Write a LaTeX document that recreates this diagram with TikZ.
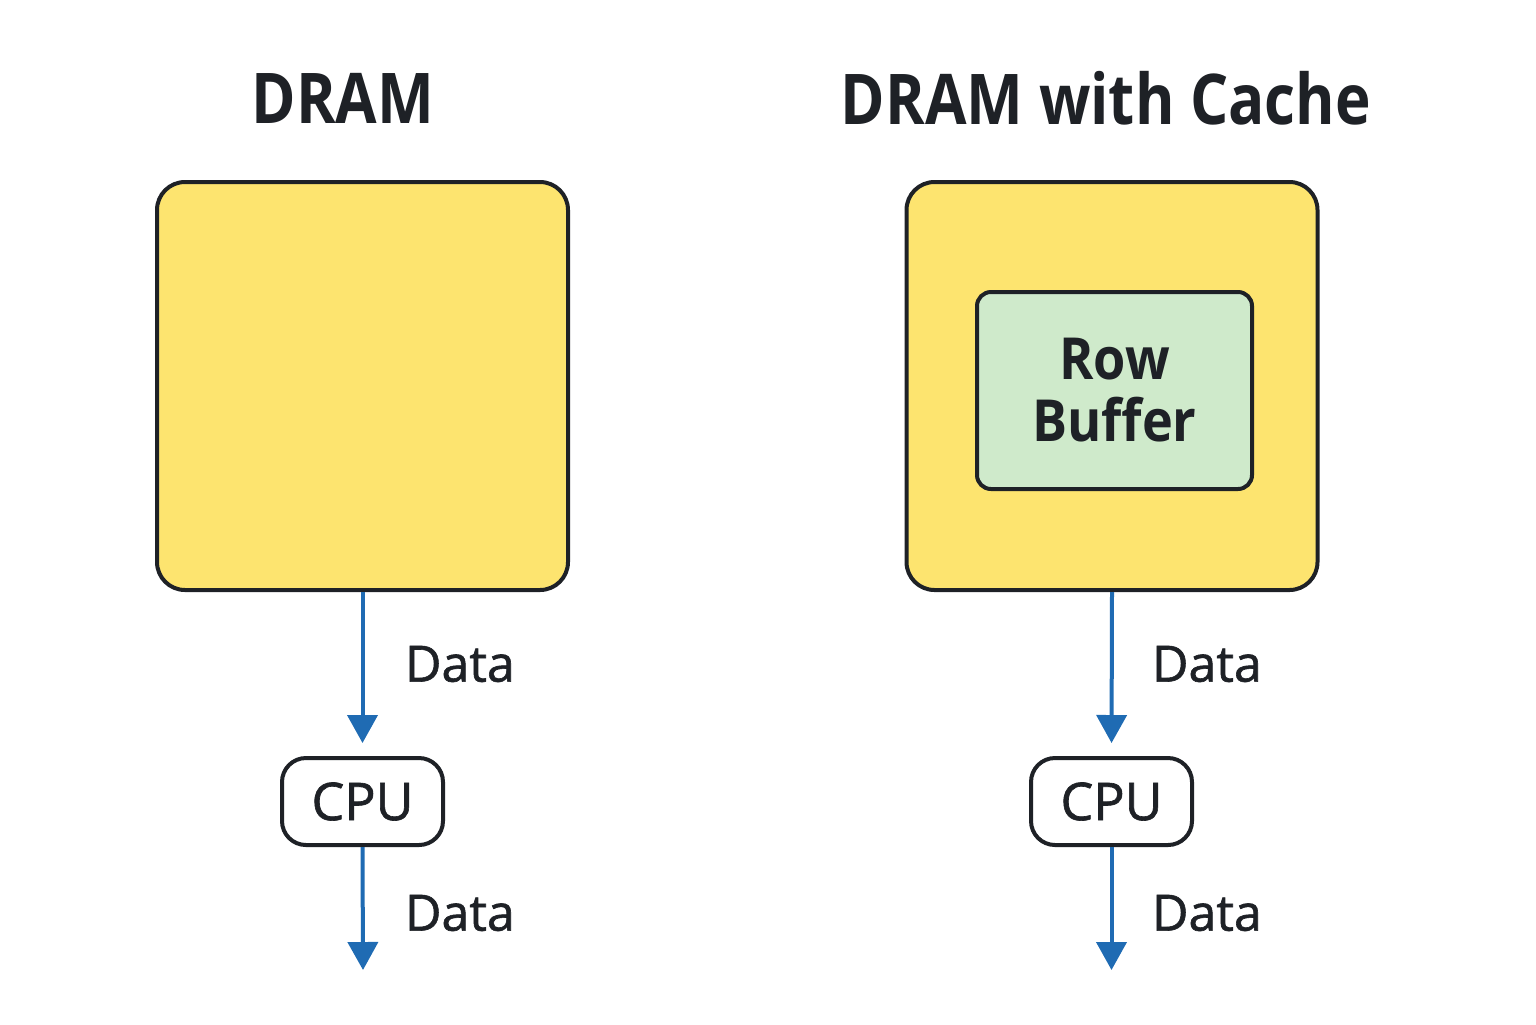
\documentclass[tikz,border=0pt]{standalone}
\usepackage{fontspec}
\setmainfont{Open Sans}
\newfontfamily\headfont{Open Sans}[FakeStretch=0.86]
\newfontfamily\buffont{Open Sans}[FakeStretch=0.9]
\newfontfamily\labfont{Open Sans}[FakeBold=1.2]
\usetikzlibrary{arrows.meta}
\definecolor{dramyellow}{HTML}{FDE46F}
\definecolor{bufgreen}{HTML}{CFEACB}
\definecolor{inkdark}{HTML}{1E2126}
\definecolor{flowblue}{HTML}{1F6BB3}
\tikzset{
  chipbox/.style={draw=inkdark, line width=2pt, fill=dramyellow, rounded corners=14pt, minimum width=205.5pt, minimum height=204pt, inner sep=0pt},
  bufbox/.style={draw=inkdark, line width=2pt, fill=bufgreen, rounded corners=7pt, minimum width=137.5pt, minimum height=98.5pt, inner sep=0pt, align=center, font=\buffont\fontsize{29}{30}\selectfont\bfseries, text=inkdark},
  cpubox/.style={draw=inkdark, line width=2pt, fill=white, rounded corners=12pt, minimum width=80.5pt, minimum height=43.5pt, inner sep=0pt, font=\labfont\fontsize{26}{26}\selectfont, text=inkdark},
  titletext/.style={font=\headfont\fontsize{35}{35}\selectfont\bfseries, text=inkdark},
  datatext/.style={font=\labfont\fontsize{25}{25}\selectfont, text=inkdark, anchor=west},
  flow/.style={draw=flowblue, line width=2pt, -{Triangle[length=14pt,width=15pt]}},
}
\begin{document}
\begin{tikzpicture}[x=0.5pt,y=-0.5pt]
\useasboundingbox (0,0) rectangle (1536,1024);
% titles
\node[titletext] (t1) at (343,98) {DRAM};
\node[titletext] (t2) at (1106,98) {DRAM with Cache};
% left column
\node[chipbox] (d1) at (362.5,386) {};
\node[cpubox] (c1) at (362.5,801.5) {CPU};
\coordinate (e1) at (363,970);
\draw[flow, shorten >=6.5pt] (d1.south) -- (c1.north);
\draw[flow] (c1.south) -- (e1);
\node[datatext] (l1) at (398,664) {Data};
\node[datatext] (l2) at (398,913) {Data};
% right column
\node[chipbox] (d2) at (1112,386) {};
\node[bufbox] (b2) at (1114.5,390.5) {Row\\[1pt]Buffer};
\node[cpubox] (c2) at (1111.5,801.5) {CPU};
\coordinate (e2) at (1111.5,970);
\draw[flow, shorten >=6.5pt] (d2.south) -- (c2.north);
\draw[flow] (c2.south) -- (e2);
\node[datatext] (l3) at (1145,664) {Data};
\node[datatext] (l4) at (1145,913) {Data};
\end{tikzpicture}
\end{document}
